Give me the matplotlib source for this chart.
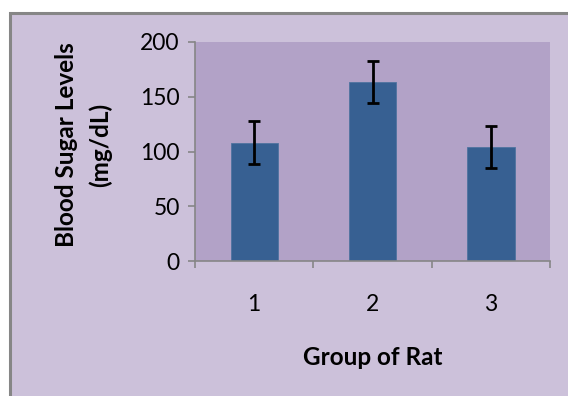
import matplotlib
matplotlib.use("Agg")
import matplotlib.pyplot as plt
from matplotlib.patches import Rectangle

groups = ["1", "2", "3"]
means = [108, 163.5, 104]
errors = [19.5, 19, 19]
y_ticks = [0, 50, 100, 150, 200]

plt.rcParams['font.family'] = ['Lato', 'DejaVu Sans']

W, H = 568, 396
fig = plt.figure(figsize=(W / 100, H / 100), dpi=100)
fig.patch.set_facecolor('white')

# chart frame
frame = Rectangle((10 / W, -0.2), 1.2, 1.2 - 13 / H, transform=fig.transFigure,
                  facecolor='#CCC1DA', edgecolor='#868686', linewidth=2.2,
                  zorder=0)
fig.patches.append(frame)

ax = fig.add_axes([195 / W, 1 - 261 / H, (550 - 195) / W, (261 - 42) / H])
ax.set_zorder(2)
ax.set_facecolor('#B2A2C7')

x = range(1, len(groups) + 1)
ax.bar(x, means, width=0.4, color='#376092', edgecolor='#4F74A0',
       linewidth=0.6, zorder=2)
ax.errorbar(x, means, yerr=errors, fmt='none', ecolor='black',
            elinewidth=2.0, capsize=4.3, capthick=2.0, zorder=3)

ax.set_xlim(0.5, 3.5)
ax.set_ylim(0, 200)
ax.set_yticks(y_ticks)
ax.set_yticklabels([str(v) for v in y_ticks], fontsize=16.5)
ax.set_xticks([0.5, 1.5, 2.5, 3.5])
ax.set_xticklabels([])
ax.set_xticks(list(x), minor=True)
ax.set_xticklabels(groups, minor=True, fontsize=16.5)
ax.tick_params(axis='x', which='minor', length=0, pad=24)
ax.tick_params(axis='x', which='major', length=5, width=1.2, color='#868686')
ax.tick_params(axis='y', length=5, width=1.2, color='#868686', pad=6)

for side in ('top', 'right'):
    ax.spines[side].set_visible(False)
for side in ('left', 'bottom'):
    ax.spines[side].set_color('#868686')
    ax.spines[side].set_linewidth(1.2)

ax.set_xlabel('Group of Rat', fontsize=17.5, fontweight='bold', labelpad=22)
ax.set_ylabel('Blood Sugar Levels\n(mg/dL)', fontsize=17.5, fontweight='bold',
              labelpad=20, linespacing=1.55)
ax.yaxis.label.set_y(0.53)

fig.savefig('out.png', dpi=100)
